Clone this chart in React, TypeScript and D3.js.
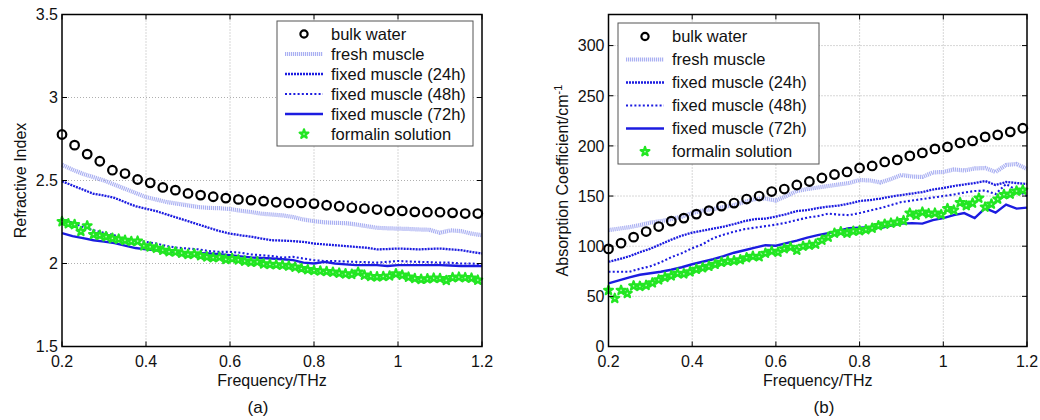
import React from "react";
import * as d3 from "d3";

// ---------- DATA ----------
const xTicks = [0.2, 0.4, 0.6, 0.8, 1, 1.2];
const xTickLabels = ["0.2", "0.4", "0.6", "0.8", "1", "1.2"];
const riTicks = [1.5, 2, 2.5, 3, 3.5];
const riTickLabels = ["1.5", "2", "2.5", "3", "3.5"];
const acTicks = [0, 50, 100, 150, 200, 250, 300];
const acTickLabels = ["0", "50", "100", "150", "200", "250", "300"];

const seriesNames = [
  "bulk water",
  "fresh muscle",
  "fixed muscle (24h)",
  "fixed muscle (48h)",
  "fixed muscle (72h)",
  "formalin solution",
];

// frequencies (THz)
const freqWater = [0.2, 0.23, 0.26, 0.29, 0.32, 0.35, 0.38, 0.41, 0.44, 0.47, 0.5, 0.53, 0.56, 0.59, 0.62, 0.65, 0.68, 0.71, 0.74, 0.77, 0.8, 0.83, 0.86, 0.89, 0.92, 0.95, 0.98, 1.01, 1.04, 1.07, 1.1, 1.13, 1.16, 1.19];
const freqLine = [0.2, 0.225, 0.25, 0.275, 0.3, 0.325, 0.35, 0.375, 0.4, 0.425, 0.45, 0.475, 0.5, 0.525, 0.55, 0.575, 0.6, 0.625, 0.65, 0.675, 0.7, 0.725, 0.75, 0.775, 0.8, 0.825, 0.85, 0.875, 0.9, 0.925, 0.95, 0.975, 1.0, 1.025, 1.05, 1.075, 1.1, 1.125, 1.15, 1.175, 1.2];
const freqFormalin = [0.2, 0.215, 0.23, 0.245, 0.26, 0.275, 0.29, 0.305, 0.32, 0.335, 0.35, 0.365, 0.38, 0.395, 0.41, 0.425, 0.44, 0.455, 0.47, 0.485, 0.5, 0.515, 0.53, 0.545, 0.56, 0.575, 0.59, 0.605, 0.62, 0.635, 0.65, 0.665, 0.68, 0.695, 0.71, 0.725, 0.74, 0.755, 0.77, 0.785, 0.8, 0.815, 0.83, 0.845, 0.86, 0.875, 0.89, 0.905, 0.92, 0.935, 0.95, 0.965, 0.98, 0.995, 1.01, 1.025, 1.04, 1.055, 1.07, 1.085, 1.1, 1.115, 1.13, 1.145, 1.16, 1.175, 1.19];

// (a) refractive index
const riWater = [2.777, 2.713, 2.659, 2.616, 2.562, 2.542, 2.506, 2.486, 2.458, 2.442, 2.422, 2.412, 2.402, 2.394, 2.386, 2.382, 2.376, 2.369, 2.365, 2.365, 2.361, 2.351, 2.345, 2.337, 2.331, 2.325, 2.317, 2.317, 2.311, 2.309, 2.309, 2.305, 2.301, 2.301];
const riFresh = [2.595, 2.565, 2.54, 2.52, 2.5, 2.475, 2.45, 2.425, 2.4, 2.385, 2.37, 2.36, 2.35, 2.34, 2.335, 2.333, 2.328, 2.318, 2.31, 2.3, 2.295, 2.29, 2.28, 2.265, 2.255, 2.248, 2.245, 2.243, 2.235, 2.225, 2.215, 2.212, 2.21, 2.208, 2.205, 2.203, 2.185, 2.2, 2.195, 2.18, 2.17];
const ri24h = [2.495, 2.47, 2.445, 2.42, 2.41, 2.395, 2.37, 2.345, 2.33, 2.315, 2.295, 2.275, 2.255, 2.235, 2.215, 2.195, 2.18, 2.17, 2.162, 2.15, 2.14, 2.138, 2.135, 2.13, 2.12, 2.115, 2.11, 2.105, 2.1, 2.095, 2.085, 2.087, 2.09, 2.088, 2.085, 2.088, 2.09, 2.085, 2.08, 2.07, 2.06];
const ri48h = [2.27, 2.245, 2.22, 2.2, 2.185, 2.17, 2.15, 2.14, 2.13, 2.12, 2.105, 2.095, 2.09, 2.085, 2.075, 2.07, 2.07, 2.065, 2.055, 2.05, 2.045, 2.035, 2.04, 2.03, 2.02, 2.015, 2.015, 2.012, 2.01, 2.008, 2.005, 2.01, 2.015, 2.012, 2.01, 2.008, 2.005, 2.005, 2.0, 2.0, 1.995];
const ri72h = [2.183, 2.165, 2.153, 2.14, 2.132, 2.123, 2.108, 2.093, 2.085, 2.08, 2.073, 2.068, 2.064, 2.062, 2.06, 2.056, 2.05, 2.043, 2.037, 2.033, 2.03, 2.026, 2.02, 2.005, 2.0, 2.01, 2.0, 1.995, 1.99, 1.99, 1.99, 1.985, 1.99, 1.99, 1.99, 1.99, 1.99, 1.988, 1.985, 1.985, 1.985];
const riFormalin = [2.253, 2.24, 2.235, 2.193, 2.227, 2.175, 2.17, 2.162, 2.152, 2.147, 2.14, 2.133, 2.135, 2.107, 2.1, 2.092, 2.08, 2.072, 2.07, 2.062, 2.055, 2.058, 2.048, 2.04, 2.035, 2.038, 2.025, 2.03, 2.022, 2.015, 2.008, 2.01, 1.998, 1.995, 1.993, 1.99, 1.985, 1.978, 1.97, 1.963, 1.958, 1.955, 1.952, 1.948, 1.942, 1.938, 1.935, 1.948, 1.93, 1.922, 1.92, 1.922, 1.925, 1.938, 1.93, 1.918, 1.91, 1.905, 1.908, 1.912, 1.91, 1.898, 1.915, 1.918, 1.915, 1.912, 1.9];

// (b) absorption coefficient (cm^-1)
const acWater = [97.3, 103, 109, 114.6, 119.6, 125, 128, 132, 135.5, 140, 143, 147, 150, 154.5, 157, 161, 164.5, 168, 171.5, 174, 178, 180, 184, 186, 190, 193, 197, 199, 203, 205, 209, 211, 214, 217.6];
const acFresh = [116, 117.5, 119, 121, 123.5, 125, 127, 129.5, 133, 135.5, 137, 139, 141, 144, 147, 147.5, 145.5, 150, 155, 157, 158.5, 160, 161.5, 163, 166, 165.5, 163.5, 167, 171, 169.5, 169, 173.5, 174, 176.5, 175.5, 177.5, 178, 174, 181, 182, 177];
const ac24h = [84.5, 87, 90, 94, 97.5, 102, 106.5, 110.5, 113.5, 115.5, 117.5, 119.5, 122, 125, 127, 127.5, 129.5, 132, 135, 136, 138, 139.5, 140.5, 142.5, 145, 146, 147.5, 149.5, 151, 152.5, 154, 156.5, 158, 160, 161.5, 163, 165, 161, 164, 163, 162];
const ac48h = [74.5, 74.5, 74.5, 77.5, 80, 84, 89, 93, 98, 102, 108, 111.5, 114.5, 117, 118.5, 120, 121.5, 123.5, 126, 128.5, 130, 132.5, 131.5, 131, 133, 135.5, 138, 141, 144, 145.5, 147, 148.5, 150, 151.5, 153.5, 155, 155.5, 152, 162, 156, 150];
const ac72h = [63, 66, 69, 71.5, 73, 74.5, 76.5, 79, 82, 84.5, 87, 90, 93.5, 96, 98.5, 101, 100.5, 103, 105.5, 108.5, 111, 113, 115.5, 118, 118.5, 119, 118, 120.5, 122.5, 123, 122.5, 126, 128, 131, 133, 128, 138, 133.5, 141.5, 137.5, 138.5];
const acFormalin = [56, 48, 56, 53, 60.5, 60, 61, 63.5, 66.5, 69, 70.5, 73, 72.5, 74.5, 77, 78.5, 80, 82, 84, 85, 85.5, 86.5, 88.5, 90, 89.5, 93, 95, 94, 97.5, 99, 96, 100, 101, 102, 106, 109, 113, 114.5, 113, 115, 115.5, 116.5, 118, 120.5, 122, 123, 124, 125.5, 133, 131, 134, 132.5, 133, 131.5, 137.5, 136, 143.5, 140.5, 143, 148, 139, 142, 147, 151.5, 152, 155, 156];

// ---------- STYLES ----------
const FONT = "'Liberation Sans', Arial, Helvetica, sans-serif";
const BLUE = "#1c1ce0";
const LAVENDER = "#aab0f2";
const GREEN = "#22e622";
const GREEN_FILL = "#c4f8c4";

type LineStyle = { color: string; width: number; dash?: string };
const lineStyles: LineStyle[] = [
  { color: LAVENDER, width: 4.2, dash: "1.2,0.8" },
  { color: BLUE, width: 2.3, dash: "2,1" },
  { color: BLUE, width: 2.1, dash: "2,2.2" },
  { color: BLUE, width: 2.4 },
];

const starPath = d3.symbol().type(d3.symbolStar).size(24)() as string;

type PanelProps = {
  x0: number; x1: number; y0: number; y1: number;
  yDomain: [number, number];
  yTicks: number[]; yTickLabels: string[];
  water: number[]; lines: number[][]; formalin: number[];
  legend: { x: number; y: number; w: number; h: number; row0: number; dy: number };
  yTitle: React.ReactNode; yTitleX: number;
  caption: string; captionX: number;
};

function Panel(p: PanelProps) {
  const x = d3.scaleLinear().domain([0.2, 1.2]).range([p.x0, p.x1]);
  const y = d3.scaleLinear().domain(p.yDomain).range([p.y1, p.y0]);
  const lineGen = d3
    .line<number>()
    .x((_, i) => x(freqLine[i]))
    .y((d) => y(d));
  const tl = 5;
  const lg = p.legend;
  const sx0 = lg.x + 8;
  const sx1 = lg.x + 46;
  const sxm = (sx0 + sx1) / 2;
  const tx = lg.x + 54;
  return (
    <g>
      {/* grid */}
      {xTicks.slice(1, -1).map((t) => (
        <line key={"gx" + t} x1={x(t)} x2={x(t)} y1={p.y0} y2={p.y1} stroke="#9a9a9a" strokeWidth={0.8} strokeDasharray="1,2" />
      ))}
      {p.yTicks.filter((t) => y(t) > p.y0 + 2 && y(t) < p.y1 - 2).map((t) => (
        <line key={"gy" + t} x1={p.x0} x2={p.x1} y1={y(t)} y2={y(t)} stroke="#9a9a9a" strokeWidth={0.8} strokeDasharray="1,2" />
      ))}
      {/* series lines */}
      {p.lines.map((vals, i) => (
        <path key={"l" + i} d={lineGen(vals) as string} fill="none" stroke={lineStyles[i].color} strokeWidth={lineStyles[i].width} strokeDasharray={lineStyles[i].dash} />
      ))}
      {/* formalin */}
      {p.formalin.map((v, i) => (
        <path key={"f" + i} d={starPath} transform={`translate(${x(freqFormalin[i])},${y(v)})`} fill={GREEN_FILL} stroke={GREEN} strokeWidth={2.2} strokeLinejoin="round" />
      ))}
      {/* bulk water */}
      {p.water.map((v, i) => (
        <circle key={"w" + i} cx={x(freqWater[i])} cy={y(v)} r={4.3} fill="none" stroke="#000" strokeWidth={2.2} />
      ))}
      {/* ticks */}
      {xTicks.map((t) => (
        <g key={"tx" + t}>
          <line x1={x(t)} x2={x(t)} y1={p.y1} y2={p.y1 - tl} stroke="#000" />
          <line x1={x(t)} x2={x(t)} y1={p.y0} y2={p.y0 + tl} stroke="#000" />
        </g>
      ))}
      {p.yTicks.map((t) => (
        <g key={"ty" + t}>
          <line x1={p.x0} x2={p.x0 + tl} y1={y(t)} y2={y(t)} stroke="#000" />
          <line x1={p.x1} x2={p.x1 - tl} y1={y(t)} y2={y(t)} stroke="#000" />
        </g>
      ))}
      <rect x={p.x0} y={p.y0} width={p.x1 - p.x0} height={p.y1 - p.y0} fill="none" stroke="#000" strokeWidth={1.5} />
      {/* tick labels */}
      {xTicks.map((t, i) => (
        <text key={"xl" + t} x={x(t)} y={p.y1 + 20} textAnchor="middle" fontSize={16} fontFamily={FONT} fill="#111">
          {xTickLabels[i]}
        </text>
      ))}
      {p.yTicks.map((t, i) => (
        <text key={"yl" + t} x={p.x0 - 4} y={y(t)} dy="0.36em" textAnchor="end" fontSize={16} fontFamily={FONT} fill="#111">
          {p.yTickLabels[i]}
        </text>
      ))}
      {/* axis titles */}
      <text x={(p.x0 + p.x1) / 2} y={386} textAnchor="middle" fontSize={16} fontFamily={FONT} fill="#111">
        Frequency/THz
      </text>
      <text transform={`translate(${p.yTitleX},${(p.y0 + p.y1) / 2}) rotate(-90)`} textAnchor="middle" dy="0.36em" fontSize={16} fontFamily={FONT} fill="#111">
        {p.yTitle}
      </text>
      <text x={p.captionX} y={413} textAnchor="middle" fontSize={17} fontFamily={FONT} fill="#111">
        {p.caption}
      </text>
      {/* legend */}
      <rect x={lg.x} y={lg.y} width={lg.w} height={lg.h} fill="#fff" stroke="#555" strokeWidth={1} />
      {seriesNames.map((name, i) => {
        const ry = lg.row0 + i * lg.dy;
        let sample: React.ReactNode = null;
        if (i === 0) sample = <circle cx={sxm} cy={ry} r={3.6} fill="none" stroke="#000" strokeWidth={2.2} />;
        else if (i === 5) sample = <path d={starPath} transform={`translate(${sxm},${ry})`} fill={GREEN_FILL} stroke={GREEN} strokeWidth={2.2} strokeLinejoin="round" />;
        else {
          const s = lineStyles[i - 1];
          sample = <line x1={sx0} x2={sx1} y1={ry} y2={ry} stroke={s.color} strokeWidth={s.width} strokeDasharray={s.dash} />;
        }
        return (
          <g key={"lg" + i}>
            {sample}
            <text x={tx} y={ry} dy="0.36em" fontSize={16.5} fontFamily={FONT} fill="#111">
              {name}
            </text>
          </g>
        );
      })}
    </g>
  );
}

export default function App() {
  return (
    <svg width={1040} height={420} style={{ position: "absolute", left: 0, top: 0, background: "#fff" }}>
      <rect x={0} y={0} width={1040} height={420} fill="#fff" />
      <Panel
        x0={62} x1={482} y0={14.5} y1={346.5}
        yDomain={[1.5, 3.5]} yTicks={riTicks} yTickLabels={riTickLabels}
        water={riWater} lines={[riFresh, ri24h, ri48h, ri72h]} formalin={riFormalin}
        legend={{ x: 277, y: 21, w: 196, h: 125, row0: 34, dy: 20 }}
        yTitle="Refractive Index" yTitleX={20}
        caption="(a)" captionX={258}
      />
      <Panel
        x0={608.5} x1={1027} y0={14.5} y1={346.5}
        yDomain={[0, 331]} yTicks={acTicks} yTickLabels={acTickLabels}
        water={acWater} lines={[acFresh, ac24h, ac48h, ac72h]} formalin={acFormalin}
        legend={{ x: 618, y: 23, w: 201, h: 141, row0: 36.5, dy: 23 }}
        yTitle={<>Absorption Coefficient/cm<tspan baselineShift="super" fontSize={11}>-1</tspan></>}
        yTitleX={562}
        caption="(b)" captionX={824}
      />
    </svg>
  );
}
